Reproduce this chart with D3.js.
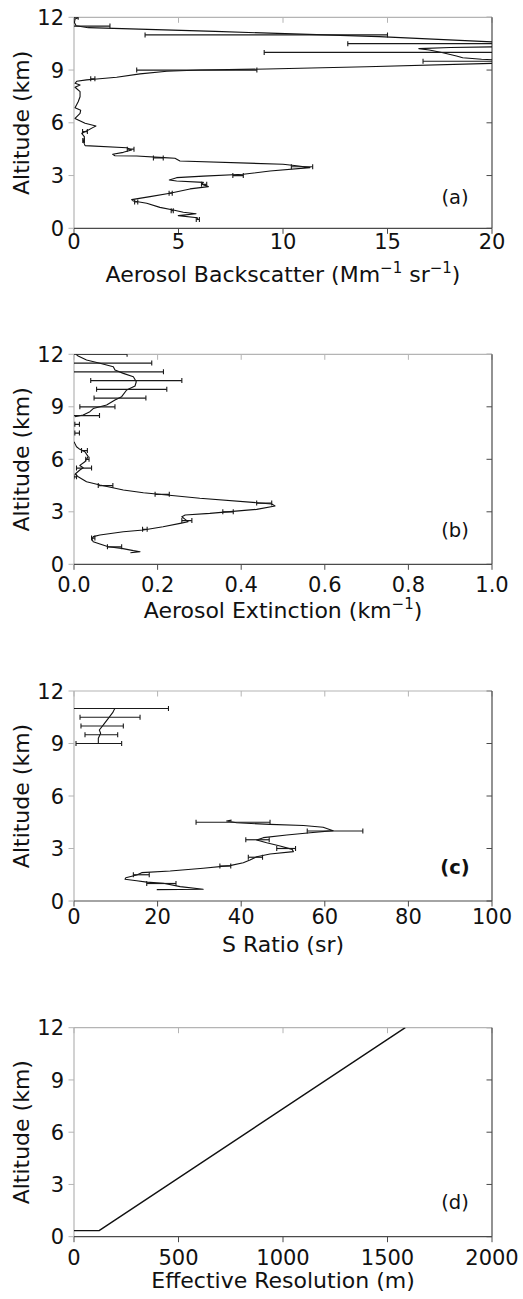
<!DOCTYPE html>
<html><head><meta charset="utf-8">
<script src="https://cdn.jsdelivr.net/npm/d3@7"></script>
<style>
body{margin:0;background:#fff}
text{font-family:"DejaVu Sans",sans-serif;fill:#111}
</style>
</head><body>
<svg id="chart" width="523" height="1299"></svg>
<script>
// ---------- shared ticks ----------
const yTicks = [0, 3, 6, 9, 12];
const xTicksA = [0, 5, 10, 15, 20];
const xTicksB = [0, 0.2, 0.4, 0.6, 0.8, 1.0];
const xTicksC = [0, 20, 40, 60, 80, 100];
const xTicksD = [0, 500, 1000, 1500, 2000];

// ---------- (a) aerosol backscatter (Mm-1 sr-1) ----------
const altA = [0.47,0.60,0.72,0.83,0.91,1.04,1.19,1.42,1.55,1.63,1.80,1.99,2.24,2.37,2.50,2.61,2.69,2.75,2.88,2.97,
  3.07,3.26,3.45,3.56,3.64,3.83,3.98,4.02,4.11,4.13,4.21,4.32,4.45,4.58,4.70,4.93,5.20,5.40,5.59,5.74,
  5.82,5.97,6.16,6.25,6.54,6.72,6.86,7.20,7.48,7.77,8.02,8.15,8.25,8.36,8.44,8.49,8.59,8.78,8.93,9.00,
  9.06,9.19,9.38,9.47,9.61,9.70,9.80,10.00,10.14,10.22,10.28,10.32,10.45,10.60,10.90,11.20,11.41,11.52,11.70,11.90,11.97];
const bscA = [5.95,5.90,4.99,5.84,5.23,4.75,4.11,3.48,2.84,2.76,3.64,4.59,5.55,6.43,6.11,6.19,4.91,4.56,4.91,6.19,
  8.10,9.38,11.29,10.65,10.00,5.07,4.83,4.30,3.00,1.96,1.85,2.36,2.76,2.52,0.53,0.45,0.50,0.37,0.69,0.92,
  1.05,0.53,0.20,0.05,0.29,0.32,0.05,0.20,0.29,0.29,0.05,0.29,0.05,0.13,0.60,1.09,2.04,3.16,4.44,6.03,
  9.23,14.0,20.0,22.5,19.5,18.6,18.3,17.6,17.0,16.5,18.0,20.0,23.0,20.0,14.6,6.75,0.68,0.10,0.02,0.05,0.20];
const errAltA = [0.5,1.0,1.5,2.0,2.5,3.0,3.5,4.0,4.5,5.0,5.5,8.5,9.0,9.5,10.0,10.5,11.0,11.5,12.0];
const errLoA  = [5.85,4.65,2.90,4.55,6.10,7.60,10.40,3.80,2.55,0.42,0.41,0.80,3.00,16.70,9.10,13.10,3.40,-0.50,0.00];
const errHiA  = [6.00,4.75,3.05,4.70,6.35,8.10,11.42,4.27,2.87,0.50,0.64,1.00,8.75,25.0,27.0,28.0,15.00,1.72,0.20];

// ---------- (b) aerosol extinction (km-1) ----------
const altB = [0.66,0.72,0.78,0.91,1.00,1.16,1.29,1.43,1.58,1.67,1.86,1.96,2.15,2.34,2.43,2.57,2.72,2.82,2.91,3.01,
  3.14,3.33,3.45,3.52,3.77,3.96,4.09,4.25,4.53,4.72,5.00,5.16,5.39,5.52,5.65,5.86,6.15,6.43,6.57,6.72,
  6.91,7.00,7.50,8.30,8.43,8.53,8.72,8.90,9.10,9.39,9.58,9.96,10.19,10.43,10.72,10.91,11.10,11.29,11.49,11.67,11.90,12.00];
const extB = [0.135,0.158,0.142,0.114,0.082,0.062,0.046,0.043,0.046,0.062,0.118,0.166,0.213,0.254,0.273,0.266,0.258,0.266,0.325,0.373,
  0.437,0.481,0.473,0.437,0.301,0.222,0.166,0.118,0.062,0.030,0.010,0.003,0.014,0.022,0.014,0.026,0.034,0.026,0.014,0.006,
  0.002,0.000,null,null,0.002,0.022,0.038,0.046,0.078,0.098,0.114,0.126,0.146,0.149,0.142,0.118,0.098,0.094,0.062,0.030,0.010,0.005];
const errAltB = [1.0,1.5,2.0,2.5,3.0,3.5,4.0,4.5,5.0,5.5,6.0,6.5,7.5,8.0,8.5,9.0,9.5,10.0,10.5,11.0,11.5,12.0];
const errLoB  = [0.080,0.042,0.164,0.258,0.356,0.437,0.194,0.058,0.000,0.006,0.028,0.018,0.002,0.002,-0.020,0.014,0.048,0.054,0.040,-0.050,-0.050,-0.050];
const errHiB  = [0.114,0.050,0.175,0.282,0.381,0.473,0.228,0.093,0.006,0.042,0.036,0.032,0.013,0.013,0.061,0.098,0.172,0.222,0.258,0.214,0.186,0.127];

// ---------- (c) S ratio (sr) ----------
const altC = [0.65,0.67,0.82,1.01,1.08,1.16,1.24,1.33,1.49,1.62,1.71,1.87,2.02,2.19,2.34,2.53,2.69,2.82,2.95,3.14,
  3.33,3.49,3.62,3.77,3.90,4.02,4.21,4.31,4.38,4.47,4.57,4.62,6.80,
  9.01,9.30,9.58,9.77,10.06,10.44,10.76,10.95,11.00];
const sC = [19.8,30.9,25.4,21.4,17.4,15.0,12.2,12.4,15.0,16.2,23.0,30.9,37.3,40.5,42.1,43.7,46.9,52.5,52.2,49.3,
  46.1,43.7,45.3,50.9,56.5,62.0,59.6,54.9,46.9,38.9,36.5,37.7,null,
  5.82,5.82,6.38,6.06,7.02,8.21,9.25,9.65,9.80];
const errAltC = [1.0,1.5,2.0,2.5,3.0,3.5,4.0,4.5,9.0,9.5,10.0,10.5,11.0];
const errLoC  = [17.4,14.2,34.9,41.7,48.5,41.1,55.8,29.2,0.48,2.63,1.67,1.44,-3.0];
const errHiC  = [24.4,18.0,37.5,45.1,53.0,46.7,69.1,46.9,11.4,10.45,11.8,15.8,22.6];

// ---------- (d) effective resolution (m) ----------
const resD = [0, 120, 1585];
const altD = [0.35, 0.35, 12.0];

// ---------- drawing ----------
const svg = d3.select('#chart');
const LEFT = 74, RIGHT = 492;
const FS = 21, FT = 22;
const fmtInt = d3.format('d'), fmt1 = d3.format('.1f');

const panels = [
  {key:'a', top:17.3, bottom:228.3, dom:[0,20], ticks:xTicksA, fmt:fmtInt,
   title:[['Aerosol Backscatter (Mm',0],['\u22121',1],[' sr',0],['\u22121',1],[')',0]],
   tickBase:21, titleBase:53.7, lab:'(a)', labOff:24, bold:false,
   alt:altA, val:bscA, eA:errAltA, eL:errLoA, eH:errHiA},
  {key:'b', top:354.3, bottom:564.3, dom:[0,1], ticks:xTicksB, fmt:fmt1,
   title:[['Aerosol Extinction (km',0],['\u22121',1],[')',0]],
   tickBase:28, titleBase:54, lab:'(b)', labOff:27, bold:false,
   alt:altB, val:extB, eA:errAltB, eL:errLoB, eH:errHiB},
  {key:'c', top:691, bottom:901, dom:[0,100], ticks:xTicksC, fmt:fmtInt,
   title:[['S Ratio (sr)',0]],
   tickBase:22.5, titleBase:50.7, lab:'(c)', labOff:27, bold:true,
   alt:altC, val:sC, eA:errAltC, eL:errLoC, eH:errHiC},
  {key:'d', top:1027.7, bottom:1236.7, dom:[0,2000], ticks:xTicksD, fmt:fmtInt,
   title:[['Effective Resolution (m)',0]],
   tickBase:28, titleBase:51.6, lab:'(d)', labOff:27.5, bold:false,
   alt:altD, val:resD, eA:[], eL:[], eH:[]}
];

const LIGHT = '#b4b4b4', DARK = '#4a4a4a', TL = 5.5;

panels.forEach(p => {
  const x = d3.scaleLinear().domain(p.dom).range([LEFT, RIGHT]);
  const y = d3.scaleLinear().domain([0, 12]).range([p.bottom, p.top]);
  const g = svg.append('g');

  svg.append('clipPath').attr('id', 'clip-' + p.key)
    .append('rect').attr('x', LEFT).attr('y', p.top)
    .attr('width', RIGHT - LEFT).attr('height', p.bottom - p.top);

  // ticks (bottom outward, top inward, left outward, right inward)
  p.ticks.forEach(t => {
    g.append('line').attr('x1', x(t)).attr('x2', x(t)).attr('y1', p.bottom).attr('y2', p.bottom + TL)
      .attr('stroke', DARK).attr('stroke-width', 1);
    g.append('line').attr('x1', x(t)).attr('x2', x(t)).attr('y1', p.top).attr('y2', p.top + TL)
      .attr('stroke', LIGHT).attr('stroke-width', 1);
    g.append('text').attr('x', x(t)).attr('y', p.bottom + p.tickBase)
      .attr('text-anchor', 'middle').attr('font-size', FS).text(p.fmt(t));
  });
  yTicks.forEach(t => {
    g.append('line').attr('x1', LEFT - TL).attr('x2', LEFT).attr('y1', y(t)).attr('y2', y(t))
      .attr('stroke', LIGHT).attr('stroke-width', 1);
    g.append('line').attr('x1', RIGHT - TL).attr('x2', RIGHT).attr('y1', y(t)).attr('y2', y(t))
      .attr('stroke', DARK).attr('stroke-width', 1);
    g.append('text').attr('x', 64).attr('y', y(t)).attr('dy', '0.36em')
      .attr('text-anchor', 'end').attr('font-size', FS).text(t);
  });

  // spines
  g.append('line').attr('x1', LEFT).attr('x2', RIGHT).attr('y1', p.top).attr('y2', p.top).attr('stroke', LIGHT).attr('stroke-width', 1.2);
  g.append('line').attr('x1', LEFT).attr('x2', LEFT).attr('y1', p.top).attr('y2', p.bottom).attr('stroke', LIGHT).attr('stroke-width', 1.2);
  g.append('line').attr('x1', RIGHT).attr('x2', RIGHT).attr('y1', p.top).attr('y2', p.bottom).attr('stroke', DARK).attr('stroke-width', 1.2);
  g.append('line').attr('x1', LEFT).attr('x2', RIGHT).attr('y1', p.bottom).attr('y2', p.bottom).attr('stroke', DARK).attr('stroke-width', 1.2);

  // data
  const dg = g.append('g').attr('clip-path', 'url(#clip-' + p.key + ')');
  const pts = p.alt.map((a, i) => ({a: a, v: p.val[i]}));
  const line = d3.line().defined(d => d.v !== null).x(d => x(d.v)).y(d => y(d.a));
  dg.append('path').datum(pts).attr('d', line).attr('fill', 'none')
    .attr('stroke', '#111').attr('stroke-width', p.key === 'd' ? 1.4 : 1.1).attr('stroke-linejoin', 'round');

  p.eA.forEach((a, i) => {
    const yy = y(a), x0 = x(p.eL[i]), x1 = x(p.eH[i]);
    dg.append('line').attr('x1', x0).attr('x2', x1).attr('y1', yy).attr('y2', yy)
      .attr('stroke', '#1a1a1a').attr('stroke-width', 1.2);
    [x0, x1].forEach(xx => dg.append('line').attr('x1', xx).attr('x2', xx)
      .attr('y1', yy - 2.5).attr('y2', yy + 2.5).attr('stroke', '#1a1a1a').attr('stroke-width', 1.1));
  });

  // panel label
  g.append('text').attr('x', 455).attr('y', p.bottom - p.labOff).attr('text-anchor', 'middle')
    .attr('font-size', 19.5).attr('font-weight', p.bold ? 'bold' : 'normal').text(p.lab);

  // x title
  const tt = g.append('text').attr('x', (LEFT + RIGHT) / 2).attr('y', p.bottom + p.titleBase)
    .attr('text-anchor', 'middle').attr('font-size', FT);
  let raised = false;
  p.title.forEach(([s, sup]) => {
    const ts = tt.append('tspan').text(s);
    if (sup) { ts.attr('font-size', 15).attr('dy', -9); raised = true; }
    else if (raised) { ts.attr('dy', 9); raised = false; }
  });

  // y title
  g.append('text').attr('transform', `translate(29,${(p.top + p.bottom) / 2}) rotate(-90)`)
    .attr('text-anchor', 'middle').attr('font-size', FT).text('Altitude (km)');
});
</script>
</body></html>
